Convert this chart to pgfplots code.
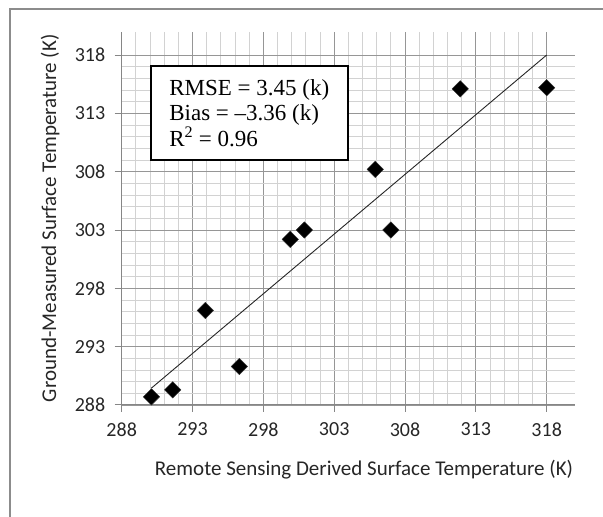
\documentclass[border=0pt]{standalone}
\usepackage{pgfplots}
\pgfplotsset{compat=1.18}
\usepackage{fontspec}
\setmainfont{Carlito}
\newfontfamily\tnr{Liberation Serif}
\definecolor{gridmaj}{RGB}{150,150,150}
\definecolor{gridmin}{RGB}{210,210,210}
\definecolor{axcol}{RGB}{134,134,134}
\definecolor{framecol}{RGB}{140,140,140}
\begin{document}
\begin{tikzpicture}[x=1bp,y=1bp]
\useasboundingbox (0,0) rectangle (603,517);
\draw[framecol, line width=2bp] (10,-2) -- (10,508) -- (605,508);
\begin{axis}[
  at={(121.7bp,112bp)}, anchor=south west,
  scale only axis, width=453.3bp, height=373.3bp,
  xmin=288, xmax=320, ymin=288, ymax=320,
  xtick={288,293,...,318}, ytick={288,293,...,318},
  minor x tick num=4, minor y tick num=4,
  grid=both,
  major grid style={gridmaj, line width=0.8bp},
  minor grid style={gridmin, line width=0.8bp},
  axis lines=left,
  axis line style={-, axcol, line width=1bp},
  x axis line style={-}, y axis line style={-},
  tick align=outside,
  major tick length=7bp, minor tick length=0pt,
  tick style={axcol, line width=1bp},
  /pgf/number format/assume math mode=true,
  /pgf/number format/set thousands separator={},
  tick label style={font=\fontsize{20bp}{24bp}\selectfont, text=black!85},
  xticklabel style={yshift=-7bp},
  yticklabel style={xshift=-6bp},
  label style={font=\fontsize{21bp}{25bp}\selectfont, text=black!85},
  xlabel={Remote Sensing Derived Surface Temperature (K)},
  ylabel={Ground-Measured Surface Temperature (K)},
  xlabel style={at={(axis description cs:0.5345,-0.174)}, anchor=center},
  ylabel style={at={(axis description cs:-0.158,0.5)}, anchor=center},
  clip=false,
]
\addplot[black!85, line width=0.9bp] coordinates {(290.1,289.45) (318,318)};
\addplot[only marks, mark=square*, mark size=5.8bp,
  mark options={rotate=45, fill=black, draw=black!80}] coordinates {
  (290.1,288.7) (291.6,289.3) (293.9,296.1) (296.3,291.3) (299.9,302.2)
  (300.9,303.0) (305.9,308.2) (307.0,303.0) (311.9,315.1) (318.0,315.2)
};
\end{axis}
\node[draw=black, line width=1.5bp, fill=white, minimum width=197bp, minimum height=94bp,
  align=left, inner sep=0pt,
  font=\tnr\fontsize{23bp}{25.5bp}\selectfont] at (249.3,404)
  {RMSE = 3.45 (k)\\Bias = \textendash3.36 (k)\\R\textsuperscript{2} = 0.96};
\end{tikzpicture}
\end{document}
